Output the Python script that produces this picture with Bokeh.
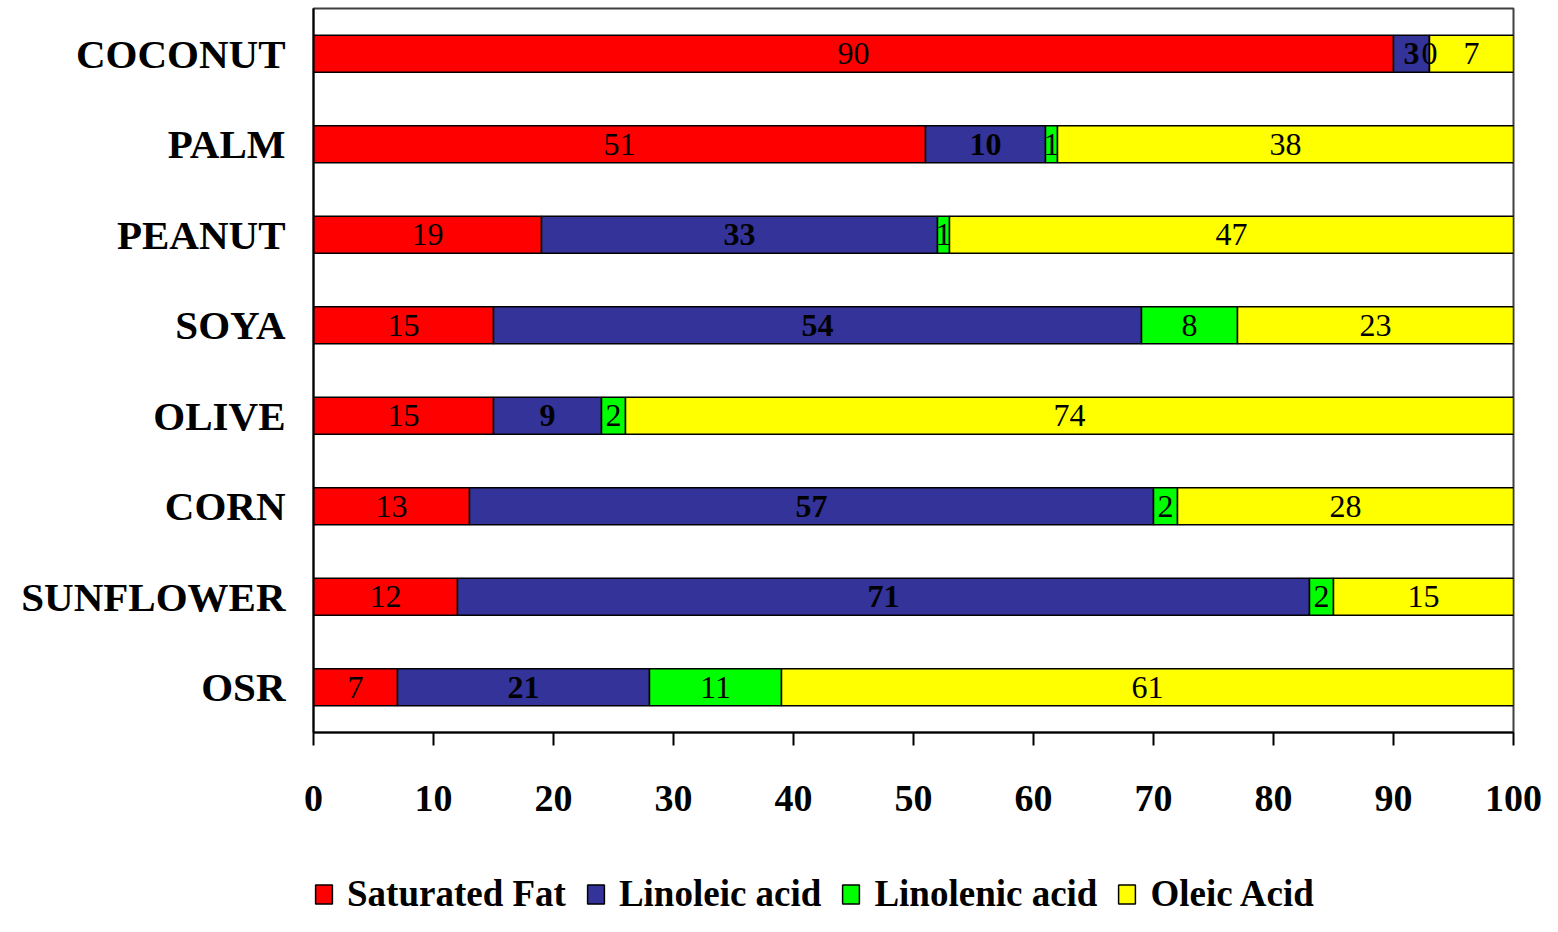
from bokeh.plotting import figure
from bokeh.layouts import column
from bokeh.models import ColumnDataSource, Legend, LegendItem, FactorRange, Range1d, FixedTicker
from bokeh.core.properties import value
from bokeh.embed import file_html
from bokeh.resources import INLINE

oils = ["COCONUT", "PALM", "PEANUT", "SOYA", "OLIVE", "CORN", "SUNFLOWER", "OSR"]
saturated = [90, 51, 19, 15, 15, 13, 12, 7]
linoleic = [3, 10, 33, 54, 9, 57, 71, 21]
linolenic = [0, 1, 1, 8, 2, 2, 2, 11]
oleic = [7, 38, 47, 23, 74, 28, 15, 61]
series_names = ["Saturated Fat", "Linoleic acid", "Linolenic acid", "Oleic Acid"]
series_keys = ["sat", "lin", "lnn", "ole"]
colors = ["#FF0000", "#333399", "#00FF00", "#FFFF00"]
x_ticks = [0, 10, 20, 30, 40, 50, 60, 70, 80, 90, 100]

FONT = "Liberation Serif"
W = 1542

data = {"oil": oils, "sat": saturated, "lin": linoleic, "lnn": linolenic, "ole": oleic}
source = ColumnDataSource(data)

p = figure(width=W, height=832, output_backend="svg", toolbar_location=None,
           y_range=FactorRange(*list(reversed(oils)), range_padding=0),
           x_range=Range1d(0, 100),
           min_border_left=313, min_border_right=29, min_border_top=8, min_border_bottom=100)

renderers = p.hbar_stack(series_keys, y="oil", height=0.41, color=colors,
                         line_color="black", line_width=1.5, source=source)

# segment labels
cum = [0] * len(oils)
for key, vals in zip(series_keys, [saturated, linoleic, linolenic, oleic]):
    centers = [c + v / 2 for c, v in zip(cum, vals)]
    cum = [c + v for c, v in zip(cum, vals)]
    lsrc = ColumnDataSource({"x": centers, "y": oils, "t": [str(v) for v in vals]})
    p.text(x="x", y="y", text="t", source=lsrc, text_align="center", text_baseline="middle",
           text_font=value(FONT), text_font_size="32px",
           text_font_style="bold" if key == "lin" else "normal", text_color="black")

p.xgrid.grid_line_color = None
p.ygrid.grid_line_color = None
p.outline_line_color = "#404040"
p.outline_line_width = 2

xa = p.xaxis[0]
xa.ticker = FixedTicker(ticks=x_ticks)
xa.minor_tick_line_color = None
xa.major_tick_in = 0
xa.major_tick_out = 13
xa.major_tick_line_width = 2
xa.axis_line_width = 2
xa.axis_line_color = "black"
xa.major_tick_line_color = "black"
xa.major_label_text_font = FONT
xa.major_label_text_font_size = "38px"
xa.major_label_text_font_style = "bold"
xa.major_label_text_color = "black"
xa.major_label_standoff = 40

ya = p.yaxis[0]
ya.major_tick_line_color = None
ya.minor_tick_line_color = None
ya.major_tick_in = 0
ya.major_tick_out = 0
ya.axis_line_width = 2
ya.axis_line_color = "black"
ya.major_label_text_font = FONT
ya.major_label_text_font_size = "41px"
ya.major_label_text_font_style = "bold"
ya.major_label_text_color = "black"
ya.major_label_standoff = 28

# legend strip below the chart (its frame is aligned with the chart's frame)
lg = figure(width=W, height=84, output_backend="svg", toolbar_location=None,
            x_axis_type=None, y_axis_type=None, x_range=Range1d(0, 1), y_range=Range1d(0, 1),
            min_border_left=313, min_border_right=29, min_border_top=0, min_border_bottom=0,
            outline_line_color=None)
lg.xgrid.grid_line_color = None
lg.ygrid.grid_line_color = None
offscreen = ColumnDataSource({"x": [-10], "y": [-10]})
dummy = [lg.rect(x="x", y="y", width=0.1, height=0.1, source=offscreen, fill_color=c,
                 line_color="black", line_width=1.5) for c in colors]
legend = Legend(items=[LegendItem(label=n, renderers=[r]) for n, r in zip(series_names, dummy)],
                orientation="horizontal", location=(0, 1),
                label_text_font=FONT, label_text_font_size="37px", label_text_font_style="bold",
                label_text_color="black",
                glyph_width=21, glyph_height=24, label_standoff=13, spacing=19,
                padding=0, margin=0, border_line_color=None, background_fill_alpha=0)
lg.add_layout(legend, "center")

open("out.html", "w").write(file_html(column(p, lg, spacing=0), INLINE))
